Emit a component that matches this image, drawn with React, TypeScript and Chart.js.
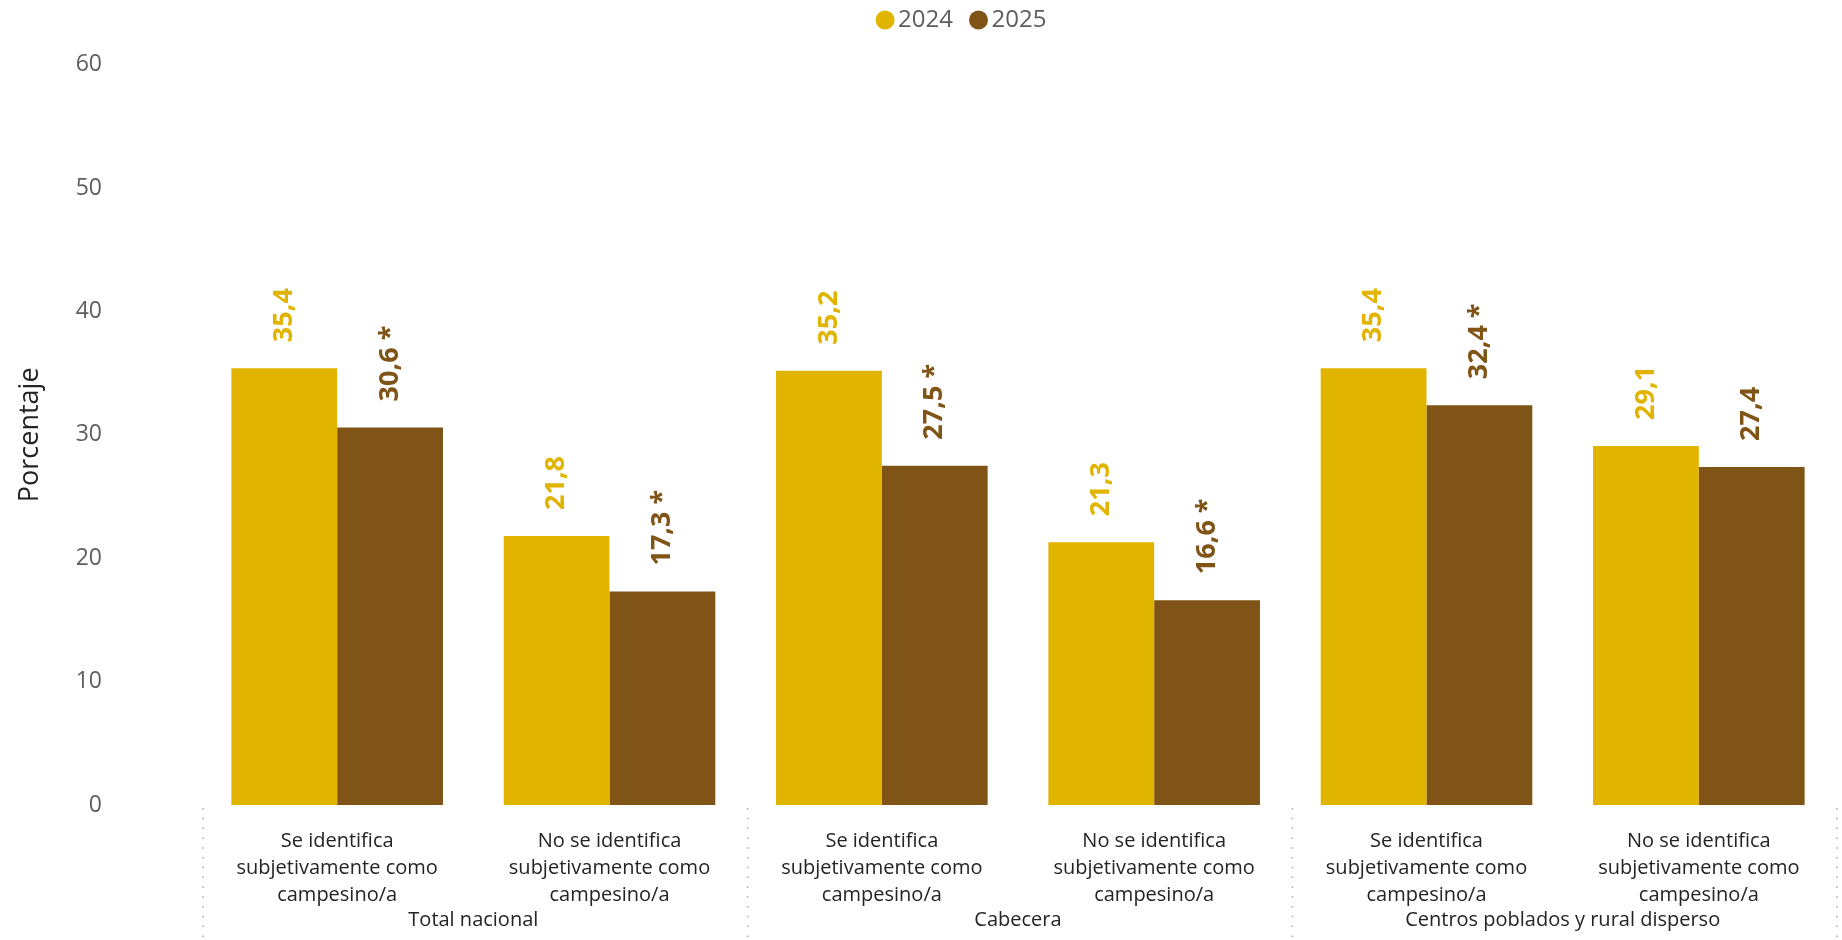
import React, { useEffect, useRef } from 'react';
import { Chart, registerables } from 'chart.js';

Chart.register(...registerables);

const FONT = "'Open Sans', 'Noto Sans', sans-serif";

const categoryLabels: string[][] = [
  ['Se identifica', 'subjetivamente como', 'campesino/a'],
  ['No se identifica', 'subjetivamente como', 'campesino/a'],
  ['Se identifica', 'subjetivamente como', 'campesino/a'],
  ['No se identifica', 'subjetivamente como', 'campesino/a'],
  ['Se identifica', 'subjetivamente como', 'campesino/a'],
  ['No se identifica', 'subjetivamente como', 'campesino/a'],
];
const groupLabels = ['Total nacional', 'Cabecera', 'Centros poblados y rural disperso'];
const seriesNames = ['2024', '2025'];
const values2024 = [35.4, 21.8, 35.2, 21.3, 35.4, 29.1];
const values2025 = [30.6, 17.3, 27.5, 16.6, 32.4, 27.4];
const significant2024 = [false, false, false, false, false, false];
const significant2025 = [true, true, true, true, true, false];
const yTickValues = [0, 10, 20, 30, 40, 50, 60];
const seriesColors = ['#E1B400', '#7F5416'];
const yTitle = 'Porcentaje';

const fmt = (v: number, sig: boolean) => v.toFixed(1).replace('.', ',') + (sig ? ' *' : '');
const valueLabels = [
  values2024.map((v, i) => fmt(v, significant2024[i])),
  values2025.map((v, i) => fmt(v, significant2025[i])),
];

// Legend drawn at the top, centred slightly right of the canvas centre (as in the reference)
const legendPlugin = {
  id: 'topLegend',
  afterDraw(chart: any) {
    const ctx = chart.ctx;
    const r = 9.5;
    const gap = 3.5;
    const itemGap = 16;
    ctx.save();
    ctx.font = `24px ${FONT}`;
    ctx.textBaseline = 'middle';
    ctx.textAlign = 'left';
    const items = chart.data.datasets.map((ds: any) => ({
      text: ds.label,
      color: ds.backgroundColor,
      w: 2 * r + gap + ctx.measureText(ds.label).width,
    }));
    const total = items.reduce((s: number, it: any) => s + it.w, 0) + itemGap * (items.length - 1);
    const centerX = chart.width / 2 + 40;
    const cy = 20;
    let x = centerX - total / 2;
    items.forEach((it: any) => {
      ctx.beginPath();
      ctx.fillStyle = it.color;
      ctx.arc(x + r, cy, r, 0, Math.PI * 2);
      ctx.fill();
      ctx.fillStyle = '#605E5C';
      ctx.fillText(it.text, x + 2 * r + gap, cy);
      x += it.w + itemGap;
    });
    ctx.restore();
  },
};

const valueLabelPlugin = {
  id: 'valueLabels',
  afterDatasetsDraw(chart: any) {
    const ctx = chart.ctx;
    chart.data.datasets.forEach((ds: any, di: number) => {
      const meta = chart.getDatasetMeta(di);
      meta.data.forEach((bar: any, i: number) => {
        ctx.save();
        ctx.translate(bar.x, bar.y - 26);
        ctx.rotate(-Math.PI / 2);
        ctx.font = `bold 27px ${FONT}`;
        ctx.fillStyle = ds.backgroundColor;
        ctx.textAlign = 'left';
        ctx.textBaseline = 'middle';
        ctx.fillText(valueLabels[di][i], 0, 0);
        ctx.restore();
      });
    });
  },
};

const groupAxisPlugin = {
  id: 'groupAxis',
  afterDraw(chart: any) {
    const ctx = chart.ctx;
    const xs = chart.scales.x;
    const c = (i: number) => xs.getPixelForValue(i);
    const half = (c(1) - c(0)) / 2;
    ctx.save();
    ctx.strokeStyle = '#A8A6A4';
    ctx.lineWidth = 1.5;
    ctx.setLineDash([1.5, 8.3]);
    for (let g = 0; g <= groupLabels.length; g++) {
      const x = (g < groupLabels.length ? c(g * 2) - half : c(g * 2 - 1) + half) + 2;
      ctx.beginPath();
      ctx.moveTo(x, xs.top + 3);
      ctx.lineTo(x, chart.height);
      ctx.stroke();
    }
    ctx.setLineDash([]);
    ctx.font = `20px ${FONT}`;
    ctx.fillStyle = '#252423';
    ctx.textAlign = 'center';
    ctx.textBaseline = 'middle';
    groupLabels.forEach((lab, g) => {
      const x = (c(g * 2) + c(g * 2 + 1)) / 2;
      ctx.fillText(lab, x, xs.top + 115);
    });
    ctx.restore();
  },
};

export default function App() {
  const ref = useRef<HTMLCanvasElement>(null);
  useEffect(() => {
    if (!ref.current) return;
    const chart = new Chart(ref.current, {
      type: 'bar',
      data: {
        labels: categoryLabels,
        datasets: [
          { label: seriesNames[0], data: values2024, backgroundColor: seriesColors[0], borderWidth: 0 },
          { label: seriesNames[1], data: values2025, backgroundColor: seriesColors[1], borderWidth: 0 },
        ],
      },
      options: {
        responsive: false,
        animation: false,
        layout: { padding: { top: 64.6, left: 0, right: 7, bottom: 0 } },
        datasets: { bar: { categoryPercentage: 0.777, barPercentage: 1 } },
        plugins: {
          legend: { display: false },
          tooltip: { enabled: false },
        },
        scales: {
          x: {
            grid: { display: false, drawTicks: false },
            border: { display: false },
            ticks: {
              autoSkip: false,
              maxRotation: 0,
              minRotation: 0,
              padding: 23,
              color: '#252423',
              font: { family: FONT, size: 20, lineHeight: '27px' },
            },
            afterFit(scale: any) {
              scale.height = 135;
            },
          },
          y: {
            min: 0,
            max: 60,
            grid: { display: false, drawTicks: false },
            border: { display: false },
            afterBuildTicks(scale: any) {
              scale.ticks = yTickValues.map((v) => ({ value: v }));
            },
            ticks: {
              padding: 99,
              color: '#605E5C',
              font: { family: FONT, size: 23 },
            },
            title: {
              display: true,
              text: yTitle,
              color: '#252423',
              font: { family: FONT, size: 27 },
              padding: { top: 14, bottom: 0 },
            },
            afterFit(scale: any) {
              scale.width = 201;
              scale.paddingTop = 14;
              scale.paddingBottom = 14;
            },
          },
        },
      },
      plugins: [legendPlugin, valueLabelPlugin, groupAxisPlugin],
    } as any);
    return () => chart.destroy();
  }, []);
  return (
    <div style={{ position: 'fixed', left: 0, top: 0, width: 1842, height: 940, background: '#fff' }}>
      <canvas ref={ref} width={1842} height={940} style={{ display: 'block' }} />
    </div>
  );
}
